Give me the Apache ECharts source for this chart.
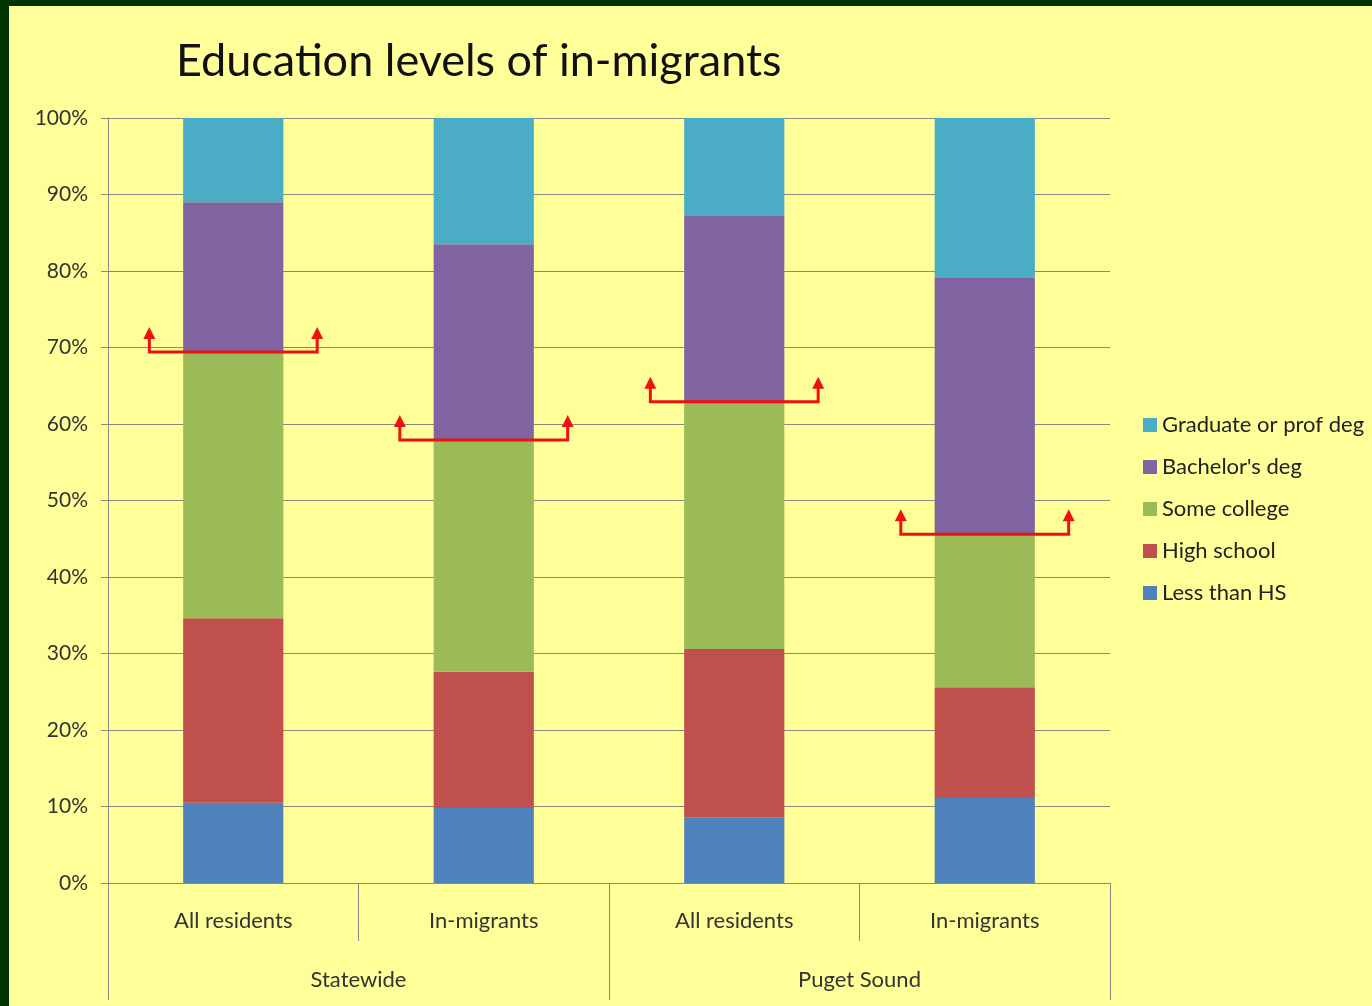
<!DOCTYPE html>
<html><head><meta charset="utf-8">
<script src="https://cdn.jsdelivr.net/npm/echarts@6/dist/echarts.min.js"></script>
<style>
html,body{margin:0;padding:0;background:#013301;width:1372px;height:1006px;overflow:hidden}
#c{position:absolute;left:9px;top:6px;width:1363px;height:1000px;background:#FFFF99;box-shadow:inset 1px 1px 0 #b8b8a0}
</style></head><body><div id="c"></div>
<script>
const categories = ["All residents", "In-migrants", "All residents", "In-migrants"];
const groups = ["Statewide", "Puget Sound"];
const lessThanHS = [10.5, 9.8, 8.6, 11.1];
const highSchool = [24.1, 17.8, 22.0, 14.5];
const someCollege = [34.8, 30.3, 32.3, 20.0];
const bachelors = [19.6, 25.6, 24.3, 33.5];
const graduate = [11.0, 16.5, 12.8, 20.9];
const yTicks = [0, 10, 20, 30, 40, 50, 60, 70, 80, 90, 100];

const names = ["Less than HS", "High school", "Some college", "Bachelor's deg", "Graduate or prof deg"];
const colors = ["#4F81BD", "#C0504D", "#9BBB59", "#8064A2", "#4BACC6"];
const seriesData = [lessThanHS, highSchool, someCollege, bachelors, graduate];
const bracketLevels = categories.map((c, i) => lessThanHS[i] + highSchool[i] + someCollege[i]);

const font = "Lato, 'Open Sans', sans-serif";
const chart = echarts.init(document.getElementById('c'), null, {renderer: 'canvas'});

const series = seriesData.map((d, k) => ({
  name: names[k], type: 'bar', stack: 'all', data: d, barWidth: '40%',
  itemStyle: {color: colors[k]}, xAxisIndex: 0, yAxisIndex: 0, silent: true
}));
series.push({
  type: 'custom', xAxisIndex: 0, yAxisIndex: 0, z: 10, silent: true,
  data: bracketLevels.map((v, i) => [i, v]),
  renderItem: function (params, api) {
    const p = api.coord([api.value(0), api.value(1)]);
    const bw = api.size([1, 0])[0];
    const hw = bw * 0.335;
    const x1 = p[0] - hw, x2 = p[0] + hw, y = p[1];
    const red = '#F01010';
    const stemTop = y - 14;
    return {
      type: 'group', children: [
        {type: 'polyline', shape: {points: [[x1, stemTop], [x1, y], [x2, y], [x2, stemTop]]},
         style: {stroke: red, lineWidth: 3, fill: null}},
        {type: 'polygon', shape: {points: [[x1 - 6, stemTop + 1], [x1 + 6, stemTop + 1], [x1, stemTop - 11]]},
         style: {fill: red}},
        {type: 'polygon', shape: {points: [[x2 - 6, stemTop + 1], [x2 + 6, stemTop + 1], [x2, stemTop - 11]]},
         style: {fill: red}}
      ]
    };
  }
});

chart.setOption({
  backgroundColor: '#FFFF99',
  animation: false,
  title: {
    text: 'Education levels of in-migrants', left: 162, top: 28,
    textStyle: {fontFamily: font, fontSize: 45, fontWeight: 'normal', color: '#111'}
  },
  legend: {
    orient: 'vertical', left: 1129, top: 401, itemWidth: 14, itemHeight: 14, itemGap: 16,
    icon: 'rect', data: names.slice().reverse(),
    textStyle: {fontFamily: font, fontSize: 22, color: '#222', padding: [0, 0, 0, 0], lineHeight: 26}
  },
  grid: {left: 99, right: 262, top: 112, bottom: 123, containLabel: false},
  xAxis: [
    {type: 'category', data: categories, position: 'bottom',
     axisLine: {show: true, lineStyle: {color: '#888', width: 1}},
     axisTick: {show: true, length: 58, lineStyle: {color: '#888'}},
     axisLabel: {margin: 27, fontFamily: font, fontSize: 22, color: '#333'}},
    {type: 'category', data: groups, position: 'bottom',
     axisLine: {show: false},
     axisTick: {show: true, length: 117, lineStyle: {color: '#888'}},
     axisLabel: {margin: 86, fontFamily: font, fontSize: 22, color: '#333'}}
  ],
  yAxis: {
    type: 'value', min: 0, max: 100, interval: 10,
    axisLine: {show: true, lineStyle: {color: '#888'}},
    axisTick: {show: true, length: 7, lineStyle: {color: '#888'}},
    axisLabel: {margin: 20, fontFamily: font, fontSize: 21, color: '#333',
      formatter: v => yTicks.includes(v) ? v + '%' : ''},
    splitLine: {show: true, lineStyle: {color: '#8a8a80', width: 1}}
  },
  series: series
});
</script></body></html>
